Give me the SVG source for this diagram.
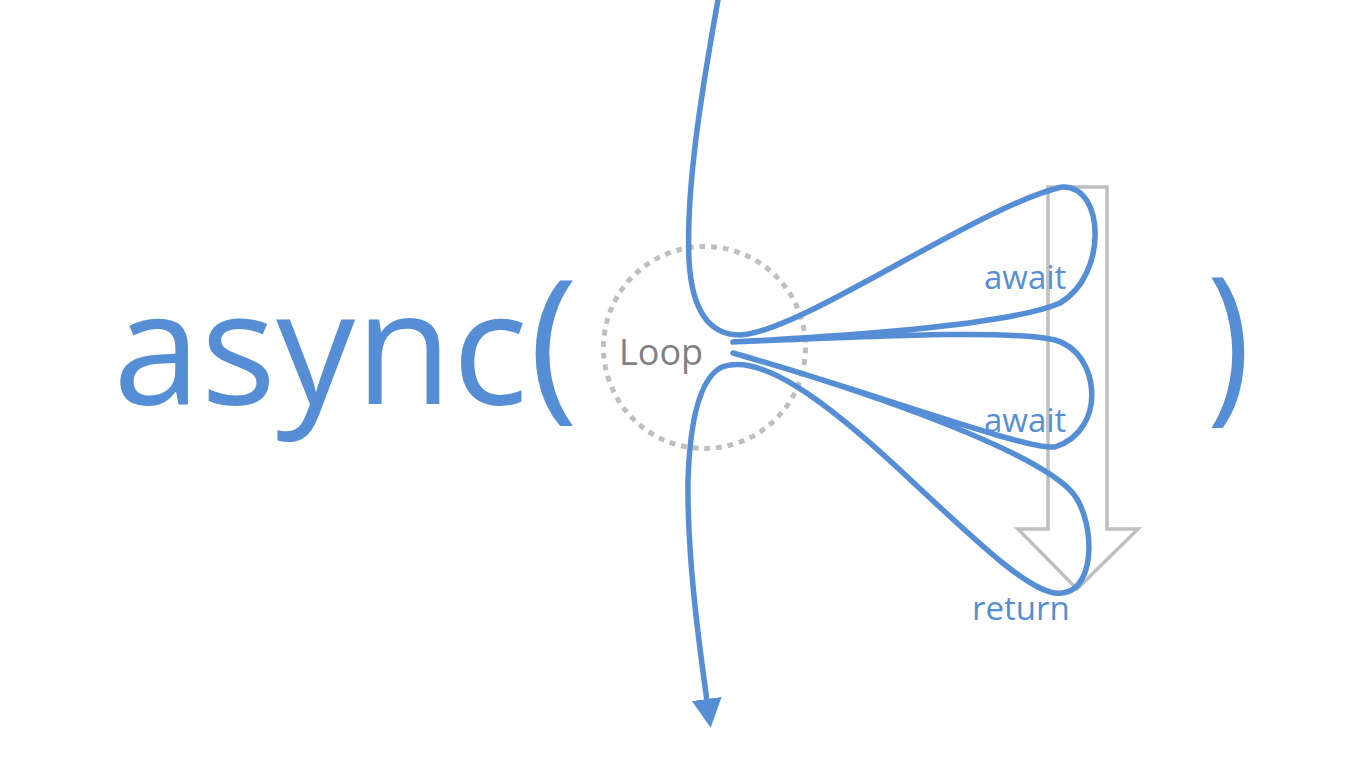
<svg xmlns="http://www.w3.org/2000/svg" width="1366" height="760" viewBox="0 0 1366 760">
<style>
.blue{fill:#558ED5;font-family:"Open Sans","Liberation Sans",sans-serif}
.gray{fill:#7f7f7f;font-family:"Open Sans","Liberation Sans",sans-serif}
.flow{fill:none;stroke:#558ED5;stroke-width:5.5;stroke-linecap:round;stroke-linejoin:round}
</style>
<defs>
<marker id="ah" markerUnits="userSpaceOnUse" markerWidth="32" markerHeight="32" refX="2" refY="15" orient="auto" viewBox="0 0 32 32">
<path d="M0,0 L29,15 L0,30 z" fill="#558ED5"/>
</marker>
</defs>
<rect width="1366" height="760" fill="#ffffff"/>
<g id="title">
<text class="blue" x="113" y="404" font-size="158">async<tspan x="529" y="400" font-size="166">(</tspan></text>
<text class="blue" transform="translate(1207,401) scale(0.85,1)" x="0" y="0" font-size="172">)</text>
</g>
<g id="sequence-arrow">
<polygon points="1048,187 1107,187 1107,529 1138,529 1077,589 1018,529 1048,529" fill="none" stroke="#bfbfbf" stroke-width="3.5"/>
</g>
<g id="loop">
<circle cx="704.5" cy="347.5" r="101" fill="none" stroke="#bfbfbf" stroke-width="5" stroke-dasharray="5.9 5.85"/>
<text class="gray" x="619" y="365" font-size="36">Loop</text>
</g>
<g id="labels">
<text class="blue" x="984" y="289" font-size="33">await</text>
<text class="blue" x="984" y="432" font-size="33">await</text>
<text class="blue" x="972" y="620" font-size="33">return</text>
</g>
<g id="connectors">
<path class="flow" marker-end="url(#ah)" d="M718,0 C700,100 686,190 689,260 C692,315 712,335 740,335 C800,333 980,205 1062,187 C1105,185 1108,275 1060,303 C1010,325 850,336 733,342 C900,335 1010,330 1055,340 C1100,352 1108,430 1055,447 C1025,450 880,395 733,353 C880,395 1030,450 1070,490 C1095,515 1098,590 1062,593 C1035,597 985,550 900,470 C830,405 760,350 720,368 C700,380 690,420 688,480 C687,560 700,650 707,701"/>
</g>
</svg>
